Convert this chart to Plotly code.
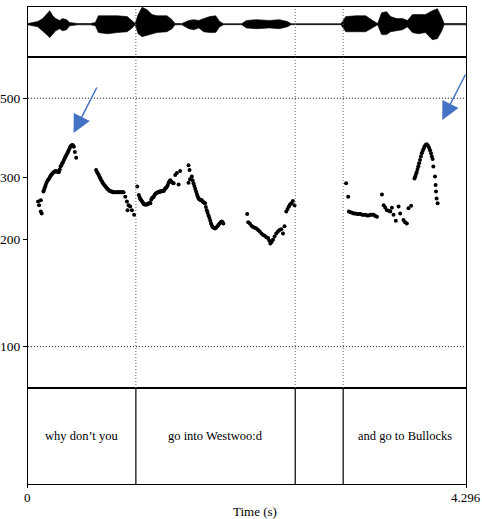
import math
import plotly.graph_objects as go

# ---------------- data ----------------
DURATION = 4.296

# waveform amplitude envelope (arbitrary units)
wave_time = [0.000, 0.049, 0.097, 0.146, 0.195, 0.214, 0.244, 0.273, 0.312, 0.341, 0.380, 0.409,
             0.487, 0.614, 0.662, 0.692, 0.779, 0.877, 0.974, 1.023, 1.052, 1.081, 1.120, 1.169,
             1.218, 1.266, 1.364, 1.413, 1.442, 1.510, 1.578, 1.627, 1.676, 1.724, 1.783, 1.841,
             1.880, 1.919, 2.095, 2.143, 2.241, 2.367, 2.465, 2.543, 2.582, 3.069, 3.117, 3.215,
             3.312, 3.380, 3.429, 3.468, 3.517, 3.556, 3.614, 3.673, 3.721, 3.770, 3.829, 3.897,
             3.965, 4.014, 4.053, 4.081, 4.296]
wave_upper = [0.04, 0.10, 0.16, 0.33, 0.68, 0.80, 0.50, 0.33, 0.22, 0.33, 0.27, 0.10,
              0.04, 0.04, 0.10, 0.50, 0.50, 0.50, 0.45, 0.22, 0.04, 0.57, 1.00, 0.86,
              0.57, 0.50, 0.50, 0.27, 0.04, 0.04, 0.22, 0.27, 0.22, 0.33, 0.45, 0.50,
              0.16, 0.03, 0.03, 0.22, 0.27, 0.22, 0.27, 0.16, 0.03, 0.03, 0.45, 0.50,
              0.50, 0.22, 0.04, 0.68, 0.74, 0.45, 0.33, 0.33, 0.22, 0.57, 0.57, 0.57,
              0.80, 0.92, 0.45, 0.04, 0.04]
wave_lower = [0.04, 0.10, 0.16, 0.39, 0.68, 0.80, 0.57, 0.39, 0.27, 0.39, 0.33, 0.10,
              0.04, 0.04, 0.10, 0.50, 0.57, 0.50, 0.45, 0.22, 0.04, 0.57, 0.74, 0.68,
              0.57, 0.50, 0.45, 0.27, 0.04, 0.04, 0.27, 0.33, 0.22, 0.45, 0.50, 0.50,
              0.16, 0.03, 0.03, 0.22, 0.27, 0.22, 0.27, 0.16, 0.03, 0.03, 0.45, 0.45,
              0.45, 0.22, 0.04, 0.62, 0.62, 0.45, 0.39, 0.33, 0.16, 0.50, 0.57, 0.50,
              0.92, 0.86, 0.45, 0.04, 0.04]

# pitch track (s, Hz)
pitch_time = [
    0.100, 0.110, 0.127, 0.127, 0.136,
    0.153, 0.160, 0.167, 0.175, 0.183, 0.192, 0.200, 0.208, 0.217, 0.225, 0.233, 0.241, 0.249,
    0.257, 0.265, 0.273, 0.281, 0.289, 0.297, 0.305, 0.313, 0.321, 0.329, 0.337, 0.345, 0.354,
    0.362, 0.370, 0.378, 0.387, 0.395, 0.403, 0.412, 0.420, 0.428, 0.435, 0.443, 0.451, 0.461, 0.474,
    0.669, 0.678, 0.686, 0.695, 0.703, 0.711, 0.720, 0.728, 0.737, 0.745, 0.753, 0.762, 0.770,
    0.779, 0.788, 0.797, 0.806, 0.815, 0.825, 0.835, 0.845, 0.857, 0.868, 0.879, 0.889, 0.899,
    0.909, 0.920, 0.930, 0.938, 0.955, 0.971, 0.977, 0.987, 1.003, 1.020, 1.042,
    1.072, 1.088, 1.097, 1.104, 1.112, 1.120, 1.128, 1.136, 1.144, 1.152, 1.160, 1.169, 1.177,
    1.185, 1.193, 1.201, 1.209, 1.217, 1.226, 1.234, 1.242, 1.250, 1.258, 1.266, 1.275, 1.283,
    1.291, 1.299, 1.307, 1.315, 1.324, 1.332, 1.340, 1.348, 1.356, 1.364, 1.372, 1.380, 1.388,
    1.396, 1.404, 1.412, 1.420, 1.429, 1.445, 1.461, 1.478, 1.493,
    1.575, 1.585, 1.575, 1.590, 1.607, 1.615, 1.624, 1.632, 1.641, 1.649, 1.657, 1.665, 1.673,
    1.681, 1.689, 1.697, 1.705, 1.713, 1.721, 1.729, 1.737, 1.745, 1.754, 1.762, 1.771, 1.780,
    1.788, 1.796, 1.804, 1.812, 1.822, 1.834, 1.845, 1.857, 1.868, 1.879, 1.890, 1.900, 1.908, 1.916,
    2.150, 2.160, 2.176, 2.192, 2.208, 2.224, 2.240, 2.257, 2.273, 2.290, 2.306, 2.322, 2.338,
    2.355, 2.366, 2.377, 2.390, 2.403, 2.419, 2.435, 2.452, 2.468, 2.484, 2.501, 2.516, 2.533,
    2.546, 2.559, 2.570, 2.582, 2.598, 2.614,
    3.120, 3.140, 3.147, 3.163, 3.179, 3.195, 3.211, 3.228, 3.244, 3.260, 3.277, 3.293, 3.309,
    3.325, 3.341, 3.357, 3.374, 3.390, 3.406, 3.422, 3.471, 3.488, 3.504, 3.520, 3.537, 3.553,
    3.568, 3.585, 3.607, 3.634, 3.650, 3.682, 3.698, 3.715, 3.731, 3.757,
    3.790, 3.798, 3.805, 3.812, 3.820, 3.828, 3.835, 3.844, 3.853, 3.861, 3.870, 3.879, 3.887,
    3.898, 3.909, 3.921, 3.933, 3.943, 3.952, 3.960, 3.968, 3.975, 3.991, 3.997, 4.001, 4.007, 4.017,
]
pitch_hz = [
    256, 250, 258, 240, 237,
    273, 277, 281, 285, 289, 293, 295, 297, 300, 303, 305, 307, 309,
    310, 311, 312, 311, 311, 310, 310, 315, 321, 324, 328, 331, 335,
    339, 343, 346, 350, 354, 358, 363, 366, 368, 369, 368, 365, 353, 340,
    314, 310, 307, 304, 300, 297, 294, 291, 288, 286, 284, 282, 280,
    278, 277, 275, 274, 273, 273, 272, 272, 272, 272, 272, 272, 272,
    272, 272, 272, 272, 264, 256, 242, 250, 248, 242, 235,
    282, 267, 263, 260, 258, 256, 254, 252, 251, 251, 251, 251, 252,
    253, 253, 253, 259, 262, 263, 264, 267, 269, 270, 271, 272, 272,
    273, 273, 273, 274, 274, 274, 277, 279, 280, 282, 285, 289, 292,
    294, 292, 290, 289, 288, 304, 308, 286, 312,
    324, 314, 289, 296, 301, 294, 288, 283, 278, 273, 269, 265, 261,
    260, 259, 258, 258, 256, 255, 254, 253, 247, 242, 238, 234, 230,
    226, 222, 219, 217, 216, 215, 216, 218, 220, 222, 224, 225, 224, 222,
    236, 224, 222, 219, 217, 216, 215, 213, 211, 208, 206, 205, 203,
    202, 199, 195, 197, 200, 204, 208, 211, 213, 214, 208, 218, 240,
    244, 248, 251, 253, 257, 250,
    288, 264, 240, 239, 238, 237, 237, 236, 236, 236, 235, 235, 235,
    234, 234, 235, 235, 235, 233, 232, 268, 250, 246, 242, 241, 240,
    246, 235, 226, 248, 237, 227, 224, 222, 245, 249,
    297, 301, 306, 310, 316, 322, 328, 335, 343, 350, 355, 360, 365,
    369, 371, 368, 363, 357, 350, 343, 337, 321, 301, 285, 273, 261, 253,
]

pitch_ticks = [100, 200, 300, 500]
pitch_range = [76.5, 653]

boundaries = [1.059, 2.621, 3.091]
interval_start = [0.0, 1.059, 2.621, 3.091]
interval_end = [1.059, 2.621, 3.091, 4.296]
interval_text = ["why don\u2019t you", "go into Westwoo:d", "", "and go to Bullocks"]

# ---------------- layout helpers ----------------
W, H = 482, 519
SERIF = "Liberation Serif"
X_DOM = [25 / W, 466 / W]
WAVE_DOM = [1 - 57 / H, 1 - 7 / H]
PITCH_DOM = [1 - 388 / H, 1 - 57 / H]
TG_DOM = [1 - 484 / H, 1 - 388 / H]
DOTS = "1px,2px"

fig = go.Figure()

# waveform
fig.add_trace(go.Scatter(
    x=wave_time + wave_time[::-1],
    y=wave_upper + [-v for v in wave_lower[::-1]],
    fill="toself", fillcolor="black", mode="lines",
    line=dict(color="black", width=0.6),
    xaxis="x", yaxis="y", hoverinfo="skip", showlegend=False))

# dotted grid lines at 500 and 100 Hz
for g in (500, 100):
    fig.add_trace(go.Scatter(
        x=[0, DURATION], y=[g, g], mode="lines",
        line=dict(color="black", width=1, dash=DOTS),
        xaxis="x2", yaxis="y2", hoverinfo="skip", showlegend=False))

# pitch points
fig.add_trace(go.Scatter(
    x=pitch_time, y=pitch_hz, mode="markers",
    marker=dict(color="black", size=4),
    xaxis="x2", yaxis="y2", showlegend=False))

shapes = []
for b in boundaries:
    shapes.append(dict(type="line", xref="x2", yref="paper", x0=b, x1=b,
                       y0=PITCH_DOM[0], y1=WAVE_DOM[1],
                       line=dict(color="#666666", width=1, dash=DOTS)))
    shapes.append(dict(type="line", xref="x3", yref="y3", x0=b, x1=b, y0=0, y1=1,
                       line=dict(color="black", width=1.2)))

annotations = []
for s, e, t in zip(interval_start, interval_end, interval_text):
    if t:
        annotations.append(dict(x=(s + e) / 2, y=0.5, xref="x3", yref="y3", text=t,
                                showarrow=False, yanchor="middle",
                                font=dict(family=SERIF, size=12.5, color="black")))

# arrows (pointing at the two peaks)
for tip in [(71, 133), (442, 120)]:
    annotations.append(dict(x=tip[0] / W, y=1 - tip[1] / H, xref="paper", yref="paper",
                            ax=24, ay=-47, text="", showarrow=True, arrowhead=2,
                            arrowsize=2.4, arrowwidth=1.5, arrowcolor="#4472C4"))

# x labels
annotations.append(dict(x=0, y=1 - 497 / H, xref="x3", yref="paper", text="0", showarrow=False,
                        yanchor="middle", font=dict(family=SERIF, size=13, color="black")))
annotations.append(dict(x=DURATION, y=1 - 497 / H, xref="x3", yref="paper", text="4.296",
                        yanchor="middle", showarrow=False,
                        font=dict(family=SERIF, size=13, color="black")))
annotations.append(dict(x=DURATION / 2 + 0.08, y=1 - 511 / H, xref="x3", yref="paper",
                        text="Time (s)", showarrow=False, yanchor="middle",
                        font=dict(family=SERIF, size=13, color="black")))

axis_common = dict(showgrid=False, zeroline=False, showline=True, mirror=True,
                   linecolor="black", linewidth=1)

fig.update_layout(
    width=W, height=H, margin=dict(l=0, r=0, t=0, b=0),
    paper_bgcolor="white", plot_bgcolor="white", showlegend=False,
    xaxis=dict(domain=X_DOM, range=[0, DURATION], anchor="y", showticklabels=False,
               ticks="", **axis_common),
    yaxis=dict(domain=WAVE_DOM, range=[-1.95, 1.02], anchor="x", showticklabels=False,
               ticks="", **axis_common),
    xaxis2=dict(domain=X_DOM, range=[0, DURATION], anchor="y2", showticklabels=False,
                ticks="", **axis_common),
    yaxis2=dict(domain=PITCH_DOM, type="log",
                range=[math.log10(pitch_range[0]), math.log10(pitch_range[1])],
                anchor="x2", tickvals=pitch_ticks, ticktext=[str(v) for v in pitch_ticks],
                ticks="outside", ticklen=4, tickcolor="black",
                tickfont=dict(family=SERIF, size=13.5, color="black"), **axis_common),
    xaxis3=dict(domain=X_DOM, range=[0, DURATION], anchor="y3", showticklabels=False,
                ticks="outside", tickvals=[0, DURATION], ticklen=3, tickcolor="black",
                **axis_common),
    yaxis3=dict(domain=TG_DOM, range=[0, 1], anchor="x3", showticklabels=False,
                ticks="", **axis_common),
    shapes=shapes, annotations=annotations,
)

fig.write_html("out.html")
